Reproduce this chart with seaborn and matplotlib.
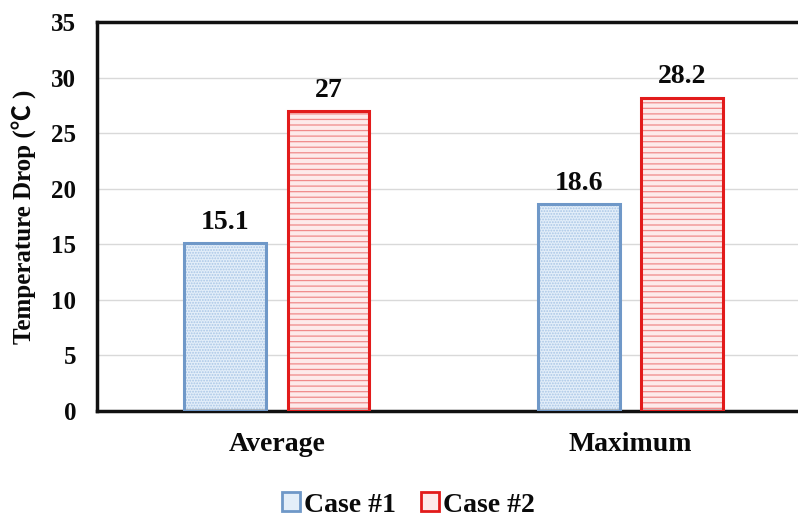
import matplotlib
matplotlib.use("Agg")
import matplotlib.pyplot as plt
import seaborn as sns
import pandas as pd
from matplotlib.patches import Rectangle, Patch

categories = ["Average", "Maximum"]
series = ["Case #1", "Case #2"]
case1 = [15.1, 18.6]
case2 = [27, 28.2]
yticks = [0, 5, 10, 15, 20, 25, 30, 35]

df = pd.DataFrame({
    "cat": categories * 2,
    "case": [series[0]] * 2 + [series[1]] * 2,
    "val": case1 + case2,
})

sns.set_style("white")
plt.rcParams["font.family"] = ["Liberation Serif", "Noto Sans CJK SC", "DejaVu Serif"]
plt.rcParams["font.weight"] = "bold"
plt.rcParams["hatch.linewidth"] = 0.9

face = {"Case #1": "#E3EEF9", "Case #2": "#FDEAEA"}
hatchc = {"Case #1": "#A9C6E6", "Case #2": "#F08A8A"}
edgec = {"Case #1": "#6F98C8", "Case #2": "#E21B1B"}
hatches = {"Case #1": "......", "Case #2": "---"}
txt = "#0A0A0A"

fig = plt.figure(figsize=(7.98, 5.20), dpi=100)
ax = fig.add_axes([97 / 798, 1 - 411 / 520, 1 - 97 / 798, (411 - 22) / 520])

sns.barplot(data=df, x="cat", y="val", hue="case", order=categories,
            hue_order=series, width=0.584, gap=0.21, palette=face,
            legend=False, ax=ax, zorder=2)

for container, s in zip(ax.containers, series):
    for bar in container:
        bar.set_facecolor(face[s])
        bar.set_hatch(hatches[s])
        bar.set_edgecolor(hatchc[s])
        bar.set_linewidth(0)
        outline = Rectangle(bar.get_xy(), bar.get_width(), bar.get_height(),
                            fill=False, edgecolor=edgec[s], linewidth=2.2, zorder=3)
        ax.add_patch(outline)
    ax.bar_label(container, labels=[f"{v:g}" for v in container.datavalues],
                 padding=6, fontsize=20, fontweight="bold", color=txt)

ax.set_ylim(0, 35)
ax.set_xlim(-0.508, 1.473)
ax.set_yticks(yticks)
ax.yaxis.grid(True, color="#D9D9D9", linewidth=1, zorder=0)
ax.set_axisbelow(True)
ax.tick_params(axis="y", length=0, labelsize=18, pad=15, colors=txt)
ax.tick_params(axis="x", length=0, labelsize=20, pad=15, colors=txt)
for lbl in ax.get_xticklabels() + ax.get_yticklabels():
    lbl.set_fontweight("bold")
ax.set_xlabel("")
ax.set_ylabel("Temperature Drop (℃ )", fontsize=18, fontweight="bold", color=txt)
ax.yaxis.set_label_coords(-0.086, 0.5)

for side in ["left", "bottom", "top"]:
    ax.spines[side].set_visible(True)
    ax.spines[side].set_color("#111111")
    ax.spines[side].set_linewidth(2.5)
ax.spines["right"].set_visible(False)

handles = [Patch(facecolor=face[s], edgecolor=edgec[s], linewidth=2) for s in series]
leg = fig.legend(handles, series, loc="center", bbox_to_anchor=(0.512, 1 - 505 / 520),
                 ncol=2, frameon=False, handlelength=0.65, handleheight=0.65,
                 handletextpad=0.15, columnspacing=0.9,
                 prop={"family": "Liberation Serif", "weight": "bold", "size": 20})
for t in leg.get_texts():
    t.set_color(txt)

fig.savefig("out.png", dpi=100)
